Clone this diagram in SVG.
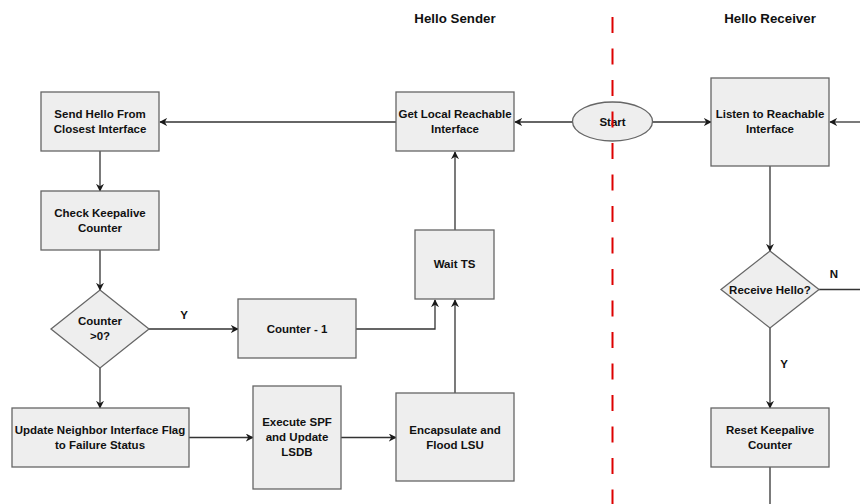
<svg xmlns="http://www.w3.org/2000/svg" width="860" height="504" viewBox="0 0 860 504">
  <defs>
    <marker id="arrow" viewBox="0 0 10 10" refX="9" refY="5" markerWidth="8" markerHeight="8" markerUnits="userSpaceOnUse" orient="auto">
      <path d="M0,0 L10,5 L0,10 L3,5 z" fill="#1a1a1a"/>
    </marker>
    <style>
      .box { fill: #eeeeee; stroke: #666666; stroke-width: 1.3; }
      .lbl { font-family: "Liberation Sans", Arial, sans-serif; font-weight: bold; font-size: 11.5px; fill: #111111; text-anchor: middle; }
      .title { font-family: "Liberation Sans", Arial, sans-serif; font-weight: bold; font-size: 13.3px; fill: #111111; text-anchor: middle; }
      .edge { fill: none; stroke: #333333; stroke-width: 1.3; }
      .arr { marker-end: url(#arrow); }
      .divider { stroke: #dd0000; stroke-width: 2; stroke-dasharray: 16 15.5; }
    </style>
  </defs>

  <rect width="860" height="504" fill="#ffffff"/>

  <!-- lane titles -->
  <text class="title" x="455" y="23">Hello Sender</text>
  <text class="title" x="770" y="23">Hello Receiver</text>

  <!-- connectors -->
  <g id="connectors">
    <line class="edge arr" x1="573" y1="122" x2="515" y2="122"/>
    <line class="edge arr" x1="396" y1="122" x2="160" y2="122"/>
    <line class="edge arr" x1="652" y1="122" x2="711" y2="122"/>
    <line class="edge arr" x1="860" y1="122" x2="830" y2="122"/>
    <line class="edge arr" x1="100" y1="151" x2="100" y2="191"/>
    <line class="edge arr" x1="100" y1="250" x2="100" y2="290"/>
    <line class="edge arr" x1="149" y1="329" x2="238" y2="329"/>
    <polyline class="edge arr" points="356,329 435,329 435,300"/>
    <line class="edge arr" x1="100" y1="368" x2="100" y2="408"/>
    <line class="edge arr" x1="189" y1="437.5" x2="253" y2="437.5"/>
    <line class="edge arr" x1="341" y1="437.5" x2="396" y2="437.5"/>
    <line class="edge arr" x1="455" y1="393" x2="455" y2="300"/>
    <line class="edge arr" x1="455" y1="230" x2="455" y2="152"/>
    <line class="edge arr" x1="770" y1="166" x2="770" y2="251"/>
    <line class="edge" x1="819" y1="289.5" x2="860" y2="289.5"/>
    <line class="edge arr" x1="770" y1="328" x2="770" y2="408"/>
    <line class="edge" x1="770" y1="467" x2="770" y2="504"/>
    <text class="lbl" x="184" y="319">Y</text>
    <text class="lbl" x="834" y="278">N</text>
    <text class="lbl" x="784" y="368">Y</text>
  </g>

  <!-- sender lane -->
  <g id="send-hello">
    <rect class="box" x="41" y="92" width="118" height="59"/>
    <text class="lbl" x="100" y="118">Send Hello From</text>
    <text class="lbl" x="100" y="133">Closest Interface</text>
  </g>
  <g id="check-keepalive">
    <rect class="box" x="41" y="191" width="118" height="59"/>
    <text class="lbl" x="100" y="217">Check Keepalive</text>
    <text class="lbl" x="100" y="232">Counter</text>
  </g>
  <g id="counter-check">
    <polygon class="box" points="100,290 149,329 100,368 51,329"/>
    <text class="lbl" x="100" y="325">Counter</text>
    <text class="lbl" x="100" y="340">&gt;0?</text>
  </g>
  <g id="counter-dec">
    <rect class="box" x="238" y="299" width="118" height="59"/>
    <text class="lbl" x="297" y="333">Counter - 1</text>
  </g>
  <g id="update-flag">
    <rect class="box" x="12" y="408" width="177" height="59"/>
    <text class="lbl" x="100" y="434">Update Neighbor Interface Flag</text>
    <text class="lbl" x="100" y="449">to Failure Status</text>
  </g>
  <g id="execute-spf">
    <rect class="box" x="253" y="386" width="88" height="103"/>
    <text class="lbl" x="297" y="426">Execute SPF</text>
    <text class="lbl" x="297" y="441">and Update</text>
    <text class="lbl" x="297" y="456">LSDB</text>
  </g>
  <g id="flood-lsu">
    <rect class="box" x="396" y="393" width="118" height="88"/>
    <text class="lbl" x="455" y="434">Encapsulate and</text>
    <text class="lbl" x="455" y="449">Flood LSU</text>
  </g>
  <g id="wait-ts">
    <rect class="box" x="415" y="230" width="79" height="69"/>
    <text class="lbl" x="454.5" y="268">Wait TS</text>
  </g>
  <g id="get-interface">
    <rect class="box" x="396" y="92" width="118" height="59"/>
    <text class="lbl" x="455" y="118">Get Local Reachable</text>
    <text class="lbl" x="455" y="133">Interface</text>
  </g>

  <!-- start -->
  <g id="start">
    <ellipse class="box" cx="612.5" cy="121.5" rx="40" ry="19.5"/>
    <text class="lbl" x="612.5" y="126">Start</text>
  </g>

  <!-- lane divider -->
  <line class="divider" x1="612.5" y1="17" x2="612.5" y2="504"/>

  <!-- receiver lane -->
  <g id="listen">
    <rect class="box" x="711" y="78" width="118" height="88"/>
    <text class="lbl" x="770" y="118">Listen to Reachable</text>
    <text class="lbl" x="770" y="133">Interface</text>
  </g>
  <g id="receive-hello">
    <polygon class="box" points="770,251 819,289.5 770,328 721,289.5"/>
    <text class="lbl" x="770" y="293.5">Receive Hello?</text>
  </g>
  <g id="reset-keepalive">
    <rect class="box" x="711" y="408" width="118" height="59"/>
    <text class="lbl" x="770" y="434">Reset Keepalive</text>
    <text class="lbl" x="770" y="449">Counter</text>
  </g>
</svg>
